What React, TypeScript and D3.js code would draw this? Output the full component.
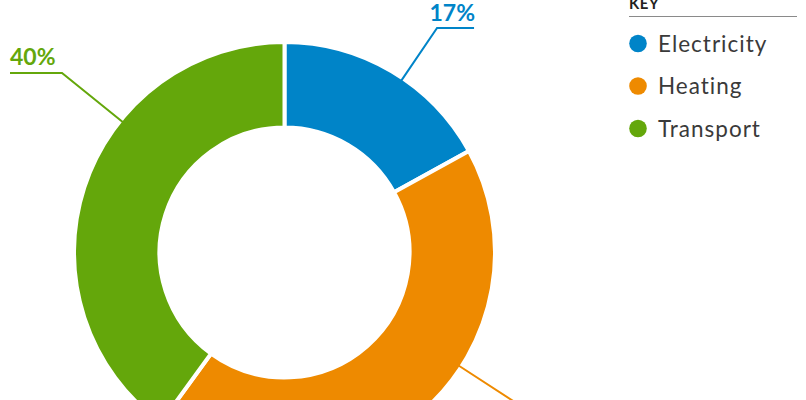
import React from "react";
import * as d3 from "d3";

const categories = ["Electricity", "Heating", "Transport"];
const values = [17, 43, 40];
const labels = ["17%", "43%", "40%"];
const colors = ["#0084C8", "#EE8A00", "#64A70B"];

// leader line layout (angle in degrees clockwise from 12 o'clock)
const leaderLayout = [
  { angle: 34.2, elbowR: 271.4, seg: 37, dir: 1 },
  { angle: 123, elbowR: 335, seg: 40, dir: 1 },
  { angle: 308.9, elbowR: 285.9, seg: 52, dir: -1 },
];

const W = 806;
const H = 400;
const cx = 284.5;
const cy = 252.5;
const outerR = 210.5;
const innerR = 125;

export default function App() {
  const pie = d3.pie<number>().sort(null).value((d) => d)(values);
  const arc = d3.arc<d3.PieArcDatum<number>>().innerRadius(innerR).outerRadius(outerR);
  const font = "Lato, 'Open Sans', sans-serif";
  const legendY = d3.scalePoint<string>().domain(categories).range([43.5, 128.5]);

  return (
    <div style={{ position: "fixed", left: 0, top: 0, width: W, height: H, overflow: "hidden", background: "#fff" }}>
      <svg width={W} height={H} style={{ display: "block" }}>
        <g transform={`translate(${cx},${cy})`}>
          {pie.map((p, i) => (
            <path key={i} d={arc(p) || ""} fill={colors[i]} stroke="#fff" strokeWidth={4} />
          ))}
          {leaderLayout.map((l, i) => {
            const a = (l.angle * Math.PI) / 180;
            const x0 = Math.sin(a) * (outerR - 3);
            const y0 = -Math.cos(a) * (outerR - 3);
            const x1 = Math.sin(a) * l.elbowR;
            const y1 = -Math.cos(a) * l.elbowR;
            const x2 = x1 + l.dir * l.seg;
            return (
              <g key={i}>
                <polyline
                  points={`${x0},${y0} ${x1},${y1} ${x2},${y1}`}
                  fill="none"
                  stroke={colors[i]}
                  strokeWidth={2}
                />
                <text
                  x={l.dir > 0 ? x2 + 1 : x2}
                  y={y1 - 7.5}
                  textAnchor={l.dir > 0 ? "end" : "start"}
                  fill={colors[i]}
                  fontFamily={font}
                  fontWeight={700}
                  fontSize={23}
                >
                  {labels[i]}
                </text>
              </g>
            );
          })}
        </g>
        <g>
          <text x={629} y={9} fontFamily={font} fontWeight={700} fontSize={15} fill="#222" letterSpacing={0.5}>
            KEY
          </text>
          <line x1={629} x2={797} y1={16.5} y2={16.5} stroke="#8a8a8a" strokeWidth={1.2} />
          {categories.map((c, i) => (
            <g key={c}>
              <circle cx={638} cy={legendY(c)} r={8.8} fill={colors[i]} />
              <text
                x={658}
                y={(legendY(c) || 0) + 8}
                fontFamily={font}
                fontSize={22.5}
                fill="#3a3a3a"
                letterSpacing={1}
              >
                {c}
              </text>
            </g>
          ))}
        </g>
      </svg>
    </div>
  );
}
